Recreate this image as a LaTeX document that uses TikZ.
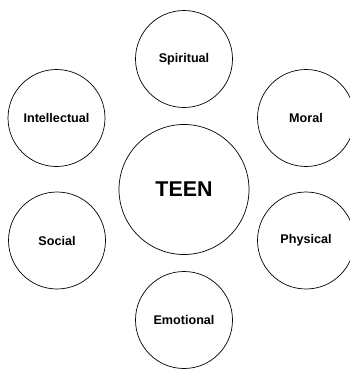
\documentclass[tikz,border=0pt]{standalone}
\usepackage{fontspec}
\setmainfont{Liberation Sans}
\usepackage{tikz}

\begin{document}
\begin{tikzpicture}[x=1pt,y=-1pt,font=\bfseries\fontsize{12.6}{14}\selectfont,
 part/.style={draw,circle,line width=0.7pt,minimum size=97pt,inner sep=0pt},
 core/.style={draw,circle,line width=0.7pt,minimum size=130pt,inner sep=0pt,font=\bfseries\fontsize{21.4}{24}\selectfont}]
\useasboundingbox (0,0) rectangle (350,369);
\node[core] (teen) at (184,189.5) {TEEN};
\node[part] (spir) at (184,59) {Spiritual};
\node[part] (intel) at (56.5,118) {Intellectual};
\node[part] (moral) at (306,118) {Moral};
\node[part] (soc) at (57,240.5) {Social};
\node[part] (phys) at (306,240.5) {Physical};
\node[part] (emo) at (184,320) {Emotional};
\end{tikzpicture}
\end{document}
